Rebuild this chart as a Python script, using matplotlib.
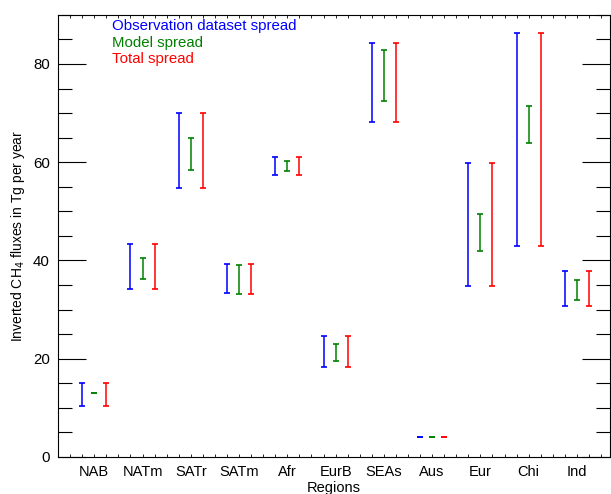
import numpy as np
import matplotlib
matplotlib.use("Agg")
import matplotlib.pyplot as plt
from matplotlib.ticker import MultipleLocator

plt.rcParams['font.family'] = ['Liberation Sans', 'DejaVu Sans']

# regions and spread ranges (low, high) in Tg CH4 per year
regions = ["NAB", "NATm", "SATr", "SATm", "Afr", "EurB", "SEAs", "Aus", "Eur", "Chi", "Ind"]

obs_low = [10.4, 34.1, 54.8, 33.3, 57.4, 18.4, 68.2, 4.0, 34.9, 43.0, 30.7]
obs_high = [15.0, 43.3, 70.0, 39.3, 61.0, 24.6, 84.3, 4.0, 59.8, 86.2, 37.8]

model_low = [13.0, 36.2, 58.5, 33.2, 58.3, 19.5, 72.4, 4.0, 42.0, 64.0, 31.9]
model_high = [13.0, 40.6, 64.9, 39.1, 60.2, 23.0, 82.9, 4.0, 49.4, 71.4, 36.1]

total_low = [10.4, 34.1, 54.8, 33.2, 57.4, 18.4, 68.2, 4.0, 34.9, 43.0, 30.7]
total_high = [15.0, 43.3, 70.0, 39.3, 61.0, 24.6, 84.3, 4.0, 59.8, 86.2, 37.8]

fig = plt.figure(figsize=(6.11, 4.94), dpi=100)
ax = fig.add_axes([0.095, 0.075, 0.903, 0.895])

x = np.arange(1, len(regions) + 1)

series = [
    (obs_low, obs_high, "blue", -0.25),
    (model_low, model_high, "green", 0.0),
    (total_low, total_high, "red", 0.25),
]
for low, high, col, off in series:
    low = np.array(low)
    high = np.array(high)
    mid = (low + high) / 2
    ax.errorbar(x + off, mid, yerr=[mid - low, high - mid], fmt='none',
                ecolor=col, elinewidth=1.1, capsize=2.2, capthick=1.2)

ax.set_xlim(0.25, 11.68)
ax.set_ylim(0, 90)

ax.set_xticks(x)
ax.set_xticklabels(regions, fontsize=10.5)
ax.xaxis.set_minor_locator(MultipleLocator(0.25))
ax.tick_params(axis='x', which='both', direction='in', top=True, bottom=True,
               length=2, width=0.6, pad=6)

ax.yaxis.set_major_locator(MultipleLocator(20))
ax.yaxis.set_minor_locator(MultipleLocator(5))
ax.tick_params(axis='y', which='major', direction='in', left=True, right=True,
               length=20, width=0.8, labelsize=10.8, pad=6)
ax.tick_params(axis='y', which='minor', direction='in', left=True, right=True,
               length=10, width=0.8)

ax.set_ylabel("Inverted CH$_4$ fluxes in Tg per year", fontsize=10)
ax.set_xlabel("Regions", fontsize=10.5, labelpad=1)

ax.text(0.098, 0.974, "Observation dataset spread", color="blue", fontsize=10.8,
        transform=ax.transAxes, va='center')
ax.text(0.098, 0.936, "Model spread", color="green", fontsize=10.8,
        transform=ax.transAxes, va='center')
ax.text(0.098, 0.899, "Total spread", color="red", fontsize=10.8,
        transform=ax.transAxes, va='center')

fig.savefig("out.png", dpi=100)
